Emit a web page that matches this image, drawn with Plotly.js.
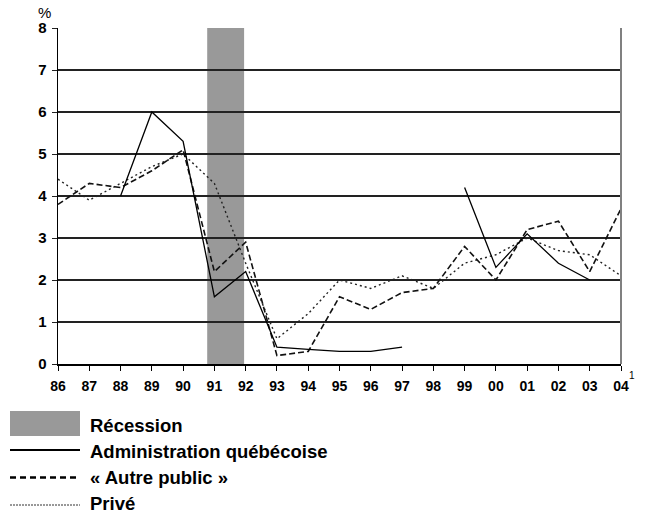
<!DOCTYPE html>
<html>
<head>
<meta charset="utf-8">
<script src="https://cdn.plot.ly/plotly-3.0.1.min.js"></script>
<style>
html,body{margin:0;padding:0;background:#fff;}
#chart{width:646px;height:518px;}
</style>
</head>
<body>
<div id="chart"></div>
<script>
var years = ['86','87','88','89','90','91','92','93','94','95','96','97','98','99','00','01','02','03','04'];
var adminQc = [null,null,4.0,6.0,5.3,1.6,2.2,0.4,0.35,0.3,0.3,0.4,null,4.2,2.3,3.1,2.4,2.0,null];
var autrePublic = [3.8,4.3,4.2,4.6,5.1,2.2,2.9,0.2,0.3,1.6,1.3,1.7,1.8,2.8,2.0,3.2,3.4,2.2,3.7];
var prive = [4.4,3.9,4.3,4.7,5.0,4.3,2.4,0.6,1.2,2.0,1.8,2.1,1.8,2.4,2.6,3.0,2.7,2.6,2.1];
var recessionStart = 4.77, recessionEnd = 5.95; // category index positions
var yTicks = [0,1,2,3,4,5,6,7,8];
var legendNames = ['Récession','Administration québécoise','« Autre public »','Privé'];

var M = {l:58, r:25, t:28, b:154};
var W = 646, H = 518;
var pw = W - M.l - M.r, ph = H - M.t - M.b;
function px(x){ return (x - M.l) / pw; }
function py(y){ return (H - M.b - y) / ph; }
function b(s){ return '<b>' + s + '</b>'; }

var FONT = 'Liberation Sans, Arial, sans-serif';

var traces = [
  {x: years, y: prive, type:'scatter', mode:'lines', name: legendNames[3],
   line:{color:'#222222', width:1.4, dash:'2px,3px'}, connectgaps:false},
  {x: years, y: autrePublic, type:'scatter', mode:'lines', name: legendNames[2],
   line:{color:'#111111', width:1.6, dash:'6px,3px'}, connectgaps:false},
  {x: years, y: adminQc, type:'scatter', mode:'lines', name: legendNames[1],
   line:{color:'#000000', width:1.3}, connectgaps:false}
];

var shapes = [
  {type:'rect', xref:'x', yref:'paper', x0:recessionStart, x1:recessionEnd, y0:0, y1:1,
   fillcolor:'#999999', line:{width:0}, layer:'below'},
  {type:'line', xref:'paper', yref:'paper', x0:1, x1:1, y0:0, y1:1,
   line:{color:'#808080', width:2}},
  // legend symbols
  {type:'rect', xref:'paper', yref:'paper', x0:px(10), x1:px(80), y0:py(411), y1:py(436),
   fillcolor:'#999999', line:{width:0}},
  {type:'line', xref:'paper', yref:'paper', x0:px(10), x1:px(80), y0:py(450), y1:py(450),
   line:{color:'#000', width:2}},
  {type:'line', xref:'paper', yref:'paper', x0:px(10), x1:px(80), y0:py(477.5), y1:py(477.5),
   line:{color:'#000', width:2.5, dash:'6px,4px'}},
  {type:'line', xref:'paper', yref:'paper', x0:px(10), x1:px(80), y0:py(505), y1:py(505),
   line:{color:'#333', width:1, dash:'2px,1px'}}
];

var legY = [425, 451, 477, 503];
var annotations = [
  {text:'%', xref:'paper', yref:'paper', x:px(44.5), y:py(12.5), showarrow:false,
   xanchor:'center', yanchor:'middle', font:{family:FONT, size:15, color:'#000'}},
  {text:'1', xref:'paper', yref:'paper', x:px(632), y:py(375), showarrow:false,
   xanchor:'center', yanchor:'middle', font:{family:FONT, size:10, color:'#000'}}
];
for (var i = 0; i < legendNames.length; i++) {
  annotations.push({text:b(legendNames[i]), xref:'paper', yref:'paper', x:px(88), y:py(legY[i]),
    showarrow:false, xanchor:'left', yanchor:'middle',
    font:{family:FONT, size:18.5, color:'#000'}});
}

var layout = {
  width: W, height: H,
  margin: M,
  paper_bgcolor:'#fff', plot_bgcolor:'#fff',
  showlegend:false,
  xaxis:{type:'category', range:[0, years.length-1], showgrid:false, zeroline:false,
    showline:true, linecolor:'#000', linewidth:1.5,
    tickmode:'array', tickvals:years, ticktext:years.map(b),
    ticks:'outside', ticklen:5, tickcolor:'#000', tickwidth:1, ticklabelstandoff:4,
    tickfont:{family:FONT, size:14, color:'#000'}, fixedrange:true},
  yaxis:{range:[0,8], tickmode:'array', tickvals:yTicks, ticktext:yTicks.map(function(v){return b(String(v));}),
    showgrid:true, gridcolor:'#222', gridwidth:1.3,
    zeroline:false, showline:true, linecolor:'#000', linewidth:1.5,
    ticks:'outside', ticklen:5, tickcolor:'#222', tickwidth:1, ticklabelstandoff:2,
    tickfont:{family:FONT, size:15, color:'#000'}, fixedrange:true},
  shapes: shapes,
  annotations: annotations
};

Plotly.newPlot('chart', traces, layout, {displayModeBar:false, staticPlot:true});
</script>
</body>
</html>
